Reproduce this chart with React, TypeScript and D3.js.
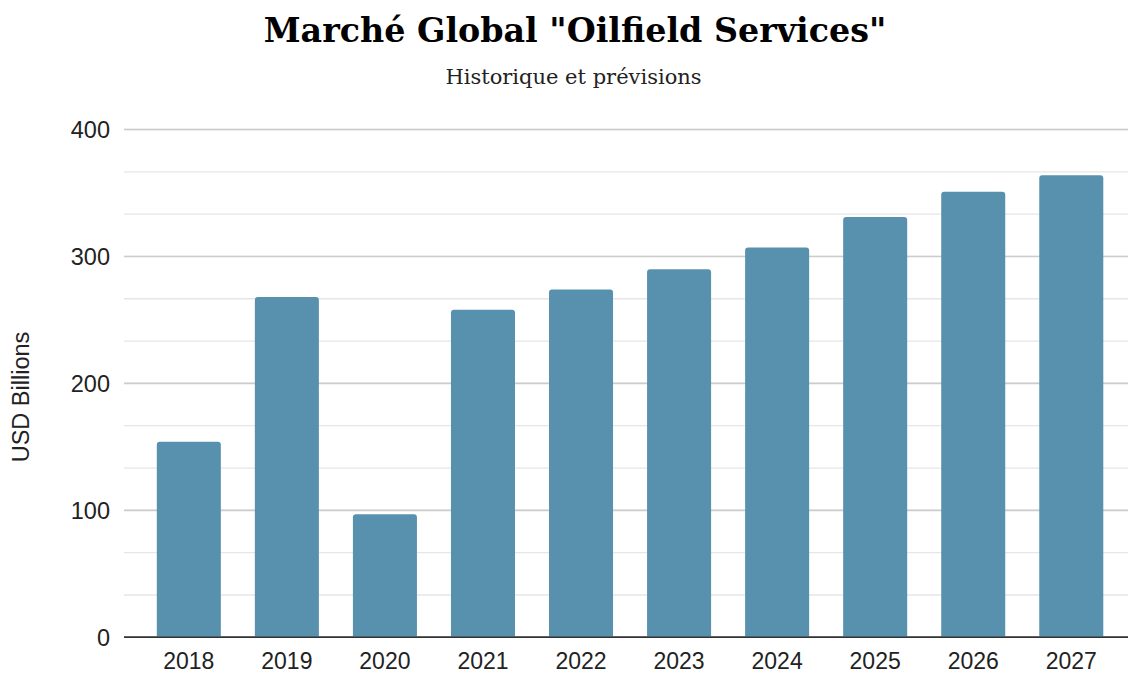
import React from "react";
import * as d3 from "d3";

const years = ["2018", "2019", "2020", "2021", "2022", "2023", "2024", "2025", "2026", "2027"];
const values = [154, 268, 97, 258, 274, 290, 307, 331, 351, 364];
const majorTicks = [0, 100, 200, 300, 400];
const minorTicks = d3.range(0, 401, 100 / 3);

const W = 1131;
const H = 673;
const plotLeft = 124;
const plotRight = 1128;
const plotTop = 129.5;
const plotBottom = 637.3;

function topRoundedRect(x: number, y: number, w: number, h: number, r: number) {
  const rr = Math.min(r, h / 2, w / 2);
  return `M${x},${y + h}V${y + rr}Q${x},${y} ${x + rr},${y}H${x + w - rr}Q${x + w},${y} ${x + w},${y + rr}V${y + h}Z`;
}

export default function App() {
  const x = d3.scaleBand<string>().domain(years).range([139.8, 1120.3]).paddingInner(0.347).paddingOuter(0.1735);
  const y = d3.scaleLinear().domain([0, 400]).range([plotBottom, plotTop]);

  return (
    <svg width={W} height={H} style={{ position: "absolute", left: 0, top: 0, background: "#fff" }}>
      <text x={575} y={42} textAnchor="middle" fontFamily="'DejaVu Serif', serif" fontWeight="bold" fontSize={33.3} fill="#000">
        Marché Global "Oilfield Services"
      </text>
      <text x={573.5} y={84} textAnchor="middle" fontFamily="'DejaVu Serif', serif" fontSize={21} fill="#222">
        Historique et prévisions
      </text>
      {minorTicks.map((t, i) => (
        <line key={"mn" + i} x1={plotLeft} x2={plotRight} y1={y(t)} y2={y(t)} stroke="#e6e6e6" strokeWidth={1.3} />
      ))}
      {majorTicks.map((t) => (
        <line key={"mj" + t} x1={plotLeft} x2={plotRight} y1={y(t)} y2={y(t)} stroke={t === 0 ? "#333" : "#cccccc"} strokeWidth={1.6} />
      ))}
      {years.map((yr, i) => (
        <path key={yr} d={topRoundedRect(x(yr)!, y(values[i]), x.bandwidth(), y(0) - y(values[i]), 3)} fill="#5891ae" />
      ))}
      <line x1={plotLeft} x2={plotRight} y1={y(0)} y2={y(0)} stroke="#333" strokeWidth={1.6} />
      {majorTicks.map((t) => (
        <text key={"yl" + t} x={110} y={y(t) + 8.5} textAnchor="end" fontFamily="'Liberation Sans', Arial, sans-serif" fontSize={23.5} fill="#222">
          {t}
        </text>
      ))}
      {years.map((yr) => (
        <text key={"xl" + yr} x={x(yr)! + x.bandwidth() / 2} y={669} textAnchor="middle" fontFamily="'Liberation Sans', Arial, sans-serif" fontSize={23} fill="#222">
          {yr}
        </text>
      ))}
      <text transform={`translate(29,397) rotate(-90)`} textAnchor="middle" fontFamily="'Liberation Sans', Arial, sans-serif" fontSize={23.5} fill="#222">
        USD Billions
      </text>
    </svg>
  );
}
